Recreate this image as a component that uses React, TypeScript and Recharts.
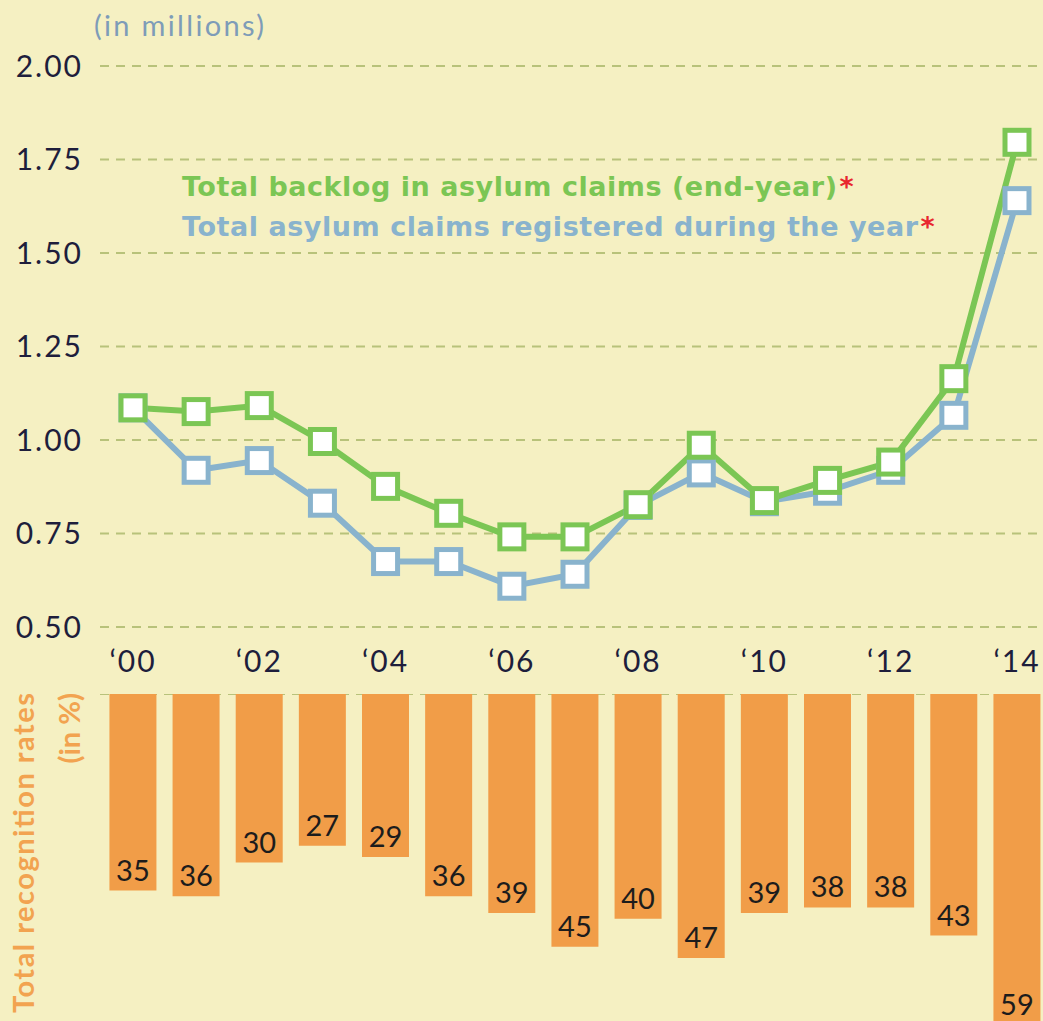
import React from 'react';
import { LineChart, Line, XAxis, YAxis, CartesianGrid, BarChart, Bar } from 'recharts';

const years = [2000, 2001, 2002, 2003, 2004, 2005, 2006, 2007, 2008, 2009, 2010, 2011, 2012, 2013, 2014];
const backlog = [1.086, 1.076, 1.092, 0.996, 0.876, 0.804, 0.741, 0.741, 0.827, 0.986, 0.838, 0.892, 0.941, 1.164, 1.796];
const registered = [1.086, 0.919, 0.945, 0.831, 0.675, 0.675, 0.609, 0.641, 0.825, 0.912, 0.835, 0.863, 0.919, 1.066, 1.64];
const recognitionRates = [35, 36, 30, 27, 29, 36, 39, 45, 40, 47, 39, 38, 38, 43, 59];

const yTicks = [0.5, 0.75, 1.0, 1.25, 1.5, 1.75, 2.0];
const xTicks = [2000, 2002, 2004, 2006, 2008, 2010, 2012, 2014];
const unitLabel = '(in millions)';
const legendBacklog = 'Total backlog in asylum claims (end-year)';
const legendRegistered = 'Total asylum claims registered during the year';
const barAxisLabel = ['Total recognition rates', '(in %)'];

const lineData = years.map((year, i) => ({ year, backlog: backlog[i], registered: registered[i] }));
const barData = years.map((year, i) => ({ year, rate: recognitionRates[i] }));

const BG = '#F5F0C2';
const GRID = '#B8C27A';
const GREEN = '#7BC654';
const BLUE = '#89B3CD';
const ORANGE = '#F19D48';
const ORANGE_TEXT = '#F2A350';
const INK = '#1E1E3C';
const FONT = 'Lato, "Open Sans", sans-serif';
const WIDE_FONT = '"DejaVu Sans", Lato, sans-serif';

const squareDot = (color: string) => (props: any) => {
  const { cx, cy, index } = props;
  if (cx == null || cy == null) return <g key={`d-${index}`} />;
  return (
    <rect
      key={`d-${color}-${index}`}
      x={cx - 12}
      y={cy - 12}
      width={24}
      height={24}
      fill="#FFFFFF"
      stroke={color}
      strokeWidth={5}
    />
  );
};

const renderBarLabel = (props: any) => {
  const { x, y, width, height, value, index } = props;
  const bottom = Math.max(Number(y), Number(y) + Number(height));
  return (
    <text
      key={`l-${index}`}
      x={Number(x) + Number(width) / 2}
      y={bottom - 10}
      textAnchor="middle"
      fontSize={29}
      fontFamily={FONT}
      fill="#1C1C1C"
    >
      {value}
    </text>
  );
};

export default function App() {
  return (
    <div
      style={{
        position: 'absolute',
        left: 0,
        top: 0,
        width: 1043,
        height: 1021,
        overflow: 'hidden',
        background: BG,
      }}
    >
      <div style={{ position: 'absolute', left: 0, top: 0 }}>
        <LineChart width={1043} height={700} data={lineData} margin={{ top: 66, right: 0, bottom: 0, left: 0 }}>
          <CartesianGrid vertical={false} stroke={GRID} strokeDasharray="9 7" strokeWidth={2} />
          <XAxis
            dataKey="year"
            type="number"
            domain={[2000, 2014]}
            ticks={xTicks}
            interval={0}
            tickFormatter={(v: number) => '\u2018' + String(v).slice(2)}
            padding={{ left: 33, right: 26 }}
            axisLine={false}
            tickLine={false}
            tickSize={0}
            tickMargin={24}
            height={73}
            tick={{ fill: INK, fontSize: 30, fontFamily: FONT, letterSpacing: 2 }}
          />
          <YAxis
            domain={[0.5, 2]}
            ticks={yTicks}
            interval={0}
            tickFormatter={(v: number) => v.toFixed(2)}
            width={100}
            axisLine={false}
            tickLine={false}
            tickSize={0}
            tickMargin={17}
            tick={{ fill: INK, fontSize: 30, fontFamily: FONT, letterSpacing: 2 }}
          />
          <Line
            type="linear"
            dataKey="registered"
            stroke={BLUE}
            strokeWidth={6}
            dot={squareDot(BLUE)}
            activeDot={false}
            isAnimationActive={false}
          />
          <Line
            type="linear"
            dataKey="backlog"
            stroke={GREEN}
            strokeWidth={6}
            dot={squareDot(GREEN)}
            activeDot={false}
            isAnimationActive={false}
          />
        </LineChart>
      </div>

      <div style={{ position: 'absolute', left: 0, top: 694 }}>
        <BarChart width={1043} height={337} data={barData} margin={{ top: 0, right: 0, bottom: 0, left: 100 }}>
          <CartesianGrid vertical={false} stroke={GRID} strokeDasharray="9 7" strokeWidth={2} />
          <XAxis dataKey="year" type="number" domain={[2000, 2014]} padding={{ left: 33, right: 26 }} hide />
          <YAxis domain={[0, 60]} ticks={[0]} reversed hide />
          <Bar dataKey="rate" fill={ORANGE} barSize={47} isAnimationActive={false} label={renderBarLabel} />
        </BarChart>
      </div>

      <svg
        width={1043}
        height={1021}
        style={{ position: 'absolute', left: 0, top: 0, pointerEvents: 'none' }}
      >
        <text x={94} y={36} fontSize={29} fontFamily={FONT} fill="#7E9CB8" textLength={170} lengthAdjust="spacing">
          {unitLabel}
        </text>
        <text x={182} y={196} fontSize={27} fontWeight={700} fontFamily={WIDE_FONT} fill={GREEN}>
          <tspan textLength={655} lengthAdjust="spacing">{legendBacklog}</tspan>
          <tspan dx={2} fill="#E8262E">*</tspan>
        </text>
        <text x={182} y={236} fontSize={27} fontWeight={700} fontFamily={WIDE_FONT} fill={BLUE}>
          <tspan textLength={736} lengthAdjust="spacing">{legendRegistered}</tspan>
          <tspan dx={2} fill="#E8262E">*</tspan>
        </text>
        <g transform="rotate(-90)">
          <text x={-693} y={34} textAnchor="end" fontSize={29} fontWeight={700} fontFamily={FONT} fill={ORANGE_TEXT} textLength={320} lengthAdjust="spacing">
            {barAxisLabel[0]}
          </text>
          <text x={-693} y={80} textAnchor="end" fontSize={29} fontWeight={700} fontFamily={FONT} fill={ORANGE_TEXT}>
            {barAxisLabel[1]}
          </text>
        </g>
      </svg>
    </div>
  );
}
